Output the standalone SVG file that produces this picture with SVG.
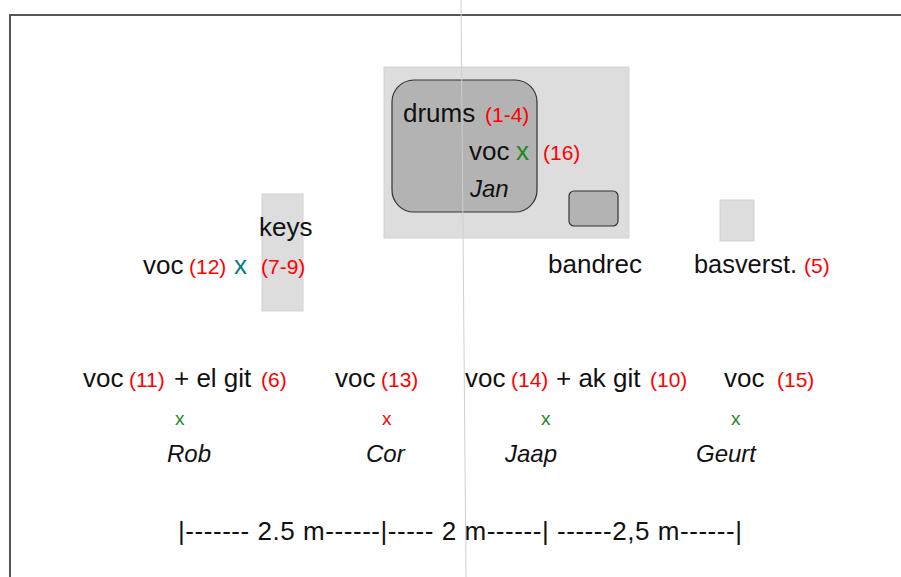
<svg xmlns="http://www.w3.org/2000/svg" width="901" height="577" viewBox="0 0 901 577">
<style>
text{font-family:"Liberation Sans",Arial,sans-serif;font-size:26px;fill:#111}
.r{fill:#ff0000;font-size:21px}
.g{fill:#1a8a1a}
.t{fill:#008080}
.sx{font-size:19px}
.i{font-style:italic;font-size:24px}
.pad{fill:#dddddd;stroke:#d2d2d2;stroke-width:1}
.inst{fill:#b3b3b3;stroke:#333;stroke-width:1.2}
</style>
<rect x="0" y="0" width="901" height="577" fill="#fff"/>
<path d="M10 577 V15 H901" fill="none" stroke="#555" stroke-width="2"/>
<g id="stage">
<rect class="pad" x="384" y="67" width="245" height="171"/>
</g>
<g id="drums">
<rect class="inst" x="392" y="80" width="145" height="132" rx="22"/>
<text x="403" y="122">drums</text><text class="r" x="485" y="122">(1-4)</text>
</g>
<g id="jan">
<text x="469" y="160">voc</text><text class="g" x="516" y="160">x</text><text class="r" x="543" y="160">(16)</text>
<text class="i" x="470" y="197">Jan</text>
</g>
<g id="bandrec">
<rect class="inst" x="569" y="191" width="49" height="35" rx="5"/>
<text x="548" y="273">bandrec</text>
</g>
<g id="keys">
<rect class="pad" x="262" y="194" width="41" height="117"/>
<text x="259" y="236">keys</text>
<text class="r" x="261" y="274">(7-9)</text>
</g>
<g id="voc12">
<text x="143" y="274">voc</text><text class="r" x="189" y="274">(12)</text><text class="t" x="234" y="274">x</text>
</g>
<g id="basverst">
<rect class="pad" x="720" y="200" width="34" height="41"/>
<text x="694" y="273" textLength="103" lengthAdjust="spacingAndGlyphs">basverst.</text><text class="r" x="804" y="273">(5)</text>
</g>
<g id="rob">
<text x="83" y="387">voc</text><text class="r" x="129" y="387">(11)</text><text x="174" y="387">+ el git</text><text class="r" x="261" y="387">(6)</text>
<text class="g sx" x="175" y="425">x</text>
<text class="i" x="167" y="462">Rob</text>
</g>
<g id="cor">
<text x="335" y="387">voc</text><text class="r" x="381" y="387">(13)</text>
<text class="r sx" x="382" y="425">x</text>
<text class="i" x="366" y="462">Cor</text>
</g>
<g id="jaap">
<text x="465" y="387">voc</text><text class="r" x="511" y="387">(14)</text><text x="556" y="387">+ ak git</text><text class="r" x="650" y="387">(10)</text>
<text class="g sx" x="541" y="425">x</text>
<text class="i" x="505" y="462">Jaap</text>
</g>
<g id="geurt">
<text x="724" y="387">voc</text><text class="r" x="777" y="387">(15)</text>
<text class="g sx" x="731" y="425">x</text>
<text class="i" x="696" y="462">Geurt</text>
</g>
<g id="scale">
<text x="178" y="540" textLength="564" lengthAdjust="spacing">|------- 2.5 m------|----- 2 m------| ------2,5 m------|</text>
</g>
<g id="connectors">
<line x1="461" y1="0" x2="466" y2="577" stroke="#cfcfcf" stroke-width="1"/>
</g>
</svg>
